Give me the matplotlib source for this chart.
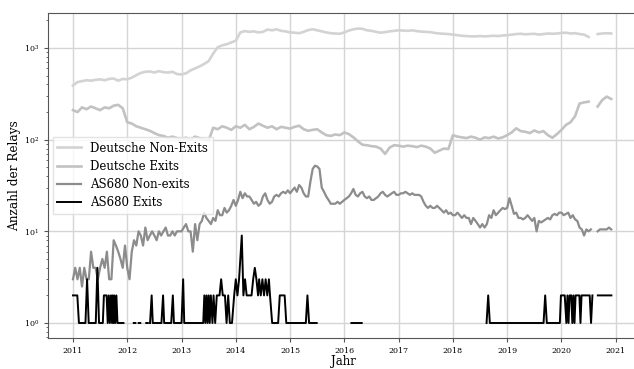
import numpy as np
import matplotlib
matplotlib.use("Agg")
import matplotlib.pyplot as plt

plt.rcParams['font.family'] = ['DejaVu Serif']
plt.rcParams['mathtext.fontset'] = 'dejavuserif'

nan = np.nan

# Jahre (Tick-Beschriftungen)
jahre = list(range(2011, 2022))

# Deutsche Relays, monatlich ab Jan 2011
de_monate = 2011 + np.arange(120) / 12
de_non_exits = [
    390, 425, 435, 445, 440, 450, 455, 445, 460, 465, 440, 460,
    455, 475, 505, 535, 550, 555, 540, 560, 545, 540, 550, 520,
    515, 530, 570, 600, 630, 670, 720, 870, 1020, 1070, 1100, 1150,
    1200, 1480, 1530, 1500, 1520, 1480, 1500, 1590, 1560, 1600, 1540, 1520,
    1480, 1470, 1450, 1500, 1570, 1600, 1560, 1520, 1480, 1450, 1440, 1430,
    1480, 1550, 1600, 1630, 1620, 1560, 1540, 1500, 1470, 1490, 1520, 1540,
    1560, 1550, 1540, 1560, 1530, 1510, 1500, 1490, 1460, 1440, 1430, 1420,
    1400, 1380, 1360, 1350, 1340, 1340, 1350, 1340, 1350, 1360, 1350, 1370,
    1380, 1400, 1420, 1430, 1410, 1420, 1430, 1400, 1420, 1440, 1430, 1440,
    1460, 1470, 1440, 1450, 1420, 1400, 1320, nan, 1420, 1440, 1450, 1440,
]
de_exits = [
    210, 200, 225, 215, 230, 220, 210, 225, 220, 235, 240, 220,
    155, 150, 140, 135, 130, 125, 118, 112, 110, 105, 108, 104,
    102, 105, 100, 108, 104, 100, 98, 135, 130, 140, 135, 128,
    140, 135, 145, 130, 138, 150, 142, 135, 140, 130, 138, 135,
    132, 138, 142, 130, 125, 128, 130, 120, 112, 110, 114, 112,
    120, 115, 106, 96, 88, 87, 85, 84, 80, 70, 82, 87,
    86, 84, 86, 85, 83, 86, 84, 80, 72, 76, 80, 79,
    112, 108, 106, 104, 108, 105, 100, 106, 104, 108, 103, 106,
    112, 120, 133, 124, 122, 118, 126, 120, 124, 112, 105, 115,
    128, 145, 155, 180, 248, 255, 260, nan, 230, 270, 295, 278,
]

# AS680 Non-exits, halbmonatlich ab Jan 2011
as_halbmonate = 2011 + np.arange(240) / 24
as_non_exits = [
    3, 4, 3, 4, 2.5, 4, 3, 3, 6, 4, 4, 3, 4, 5, 4, 6, 3, 3, 8, 7, 6, 5, 4, 7,
    4, 3, 6, 8, 7, 10, 9, 7, 11, 8, 9, 10, 9, 8, 10, 9, 10, 11, 9, 9, 10, 9, 10, 10,
    10, 11, 12, 10, 10, 6, 12, 8, 12, 13, 16, 14, 13, 12, 14, 13, 17, 15, 15, 18, 16, 17, 19, 22,
    19, 22, 27, 23, 26, 24, 24, 22, 20, 21, 19, 20, 24, 26, 22, 20, 21, 24, 25, 24, 26, 27, 26, 28,
    26, 28, 30, 27, 32, 30, 26, 24, 24, 35, 48, 52, 51, 48, 30, 27, 24, 22, 20, 20, 20, 21, 20, 21,
    22, 23, 24, 26, 29, 25, 24, 26, 27, 24, 23, 24, 22, 22, 23, 24, 26, 27, 25, 24, 25, 26, 27, 25,
    25, 26, 26, 27, 26, 25, 26, 25, 25, 25, 24, 21, 19, 18, 19, 18, 18, 19, 18, 17, 16, 17, 15.5, 16,
    15, 15, 16, 15, 14, 15, 14, 14, 12, 14, 13, 12, 11, 12, 11, 12, 15, 14, 17, 15, 16, 17, 18, 17.5,
    18, 23, 19, 15.5, 16, 14, 14, 13.5, 14, 15, 14, 13, 14, 10, 13, 12.5, 13, 13.5, 14, 13.5, 15, 15.5, 15, 16,
    16, 15, 15.5, 16, 14, 15, 13.5, 13, 11, 10.5, 9, 10.5, 10, 10.5, nan, nan, 10, 10.5, 10.5, 10.5, 10.5, 11, 10.5, nan,
]

# AS680 Exits (Zeitpunkt, Anzahl); nan = keine Exits
as_exit_zeit = [
    2011.00, 2011.08, 2011.11, 2011.23, 2011.26, 2011.29, 2011.42, 2011.45, 2011.48, 2011.55,
    2011.57, 2011.62, 2011.64, 2011.66, 2011.68, 2011.70, 2011.72, 2011.73, 2011.75, 2011.76,
    2011.78, 2011.80, 2011.82, 2011.93, 2011.95,
    2012.12, 2012.15, 2012.16, 2012.21, 2012.24, 2012.25, 2012.35, 2012.38, 2012.39,
    2012.42, 2012.45, 2012.47, 2012.63, 2012.66, 2012.68, 2012.81, 2012.84, 2012.86,
    2013.00, 2013.03, 2013.05, 2013.40, 2013.42, 2013.44, 2013.46, 2013.48, 2013.50, 2013.52,
    2013.54, 2013.57, 2013.59, 2013.62, 2013.65, 2013.70, 2013.73, 2013.76, 2013.80, 2013.83,
    2013.86, 2013.89, 2013.93, 2013.97, 2014.00, 2014.03, 2014.06, 2014.11, 2014.14, 2014.17,
    2014.20, 2014.29, 2014.32, 2014.35, 2014.38, 2014.41, 2014.43, 2014.46, 2014.49, 2014.52,
    2014.55, 2014.58, 2014.61, 2014.63, 2014.67, 2014.78, 2014.81, 2014.90, 2014.93,
    2015.29, 2015.32, 2015.35, 2015.49, 2015.50,
    2016.13, 2016.32, 2016.33,
    2018.62, 2018.65, 2018.68, 2019.67, 2019.70, 2019.73, 2019.97, 2019.99, 2020.06, 2020.09,
    2020.11, 2020.13, 2020.15, 2020.18, 2020.20, 2020.22, 2020.24, 2020.26, 2020.33, 2020.35,
    2020.37, 2020.52, 2020.545, 2020.57, 2020.58,
    2020.67, 2020.92,
]
as_exits = [
    2, 2, 1, 1, 3, 1, 1, 4, 1, 1,
    2, 2, 1, 2, 1, 2, 1, 2, 1, 2,
    1, 2, 1, 1, nan,
    1, 1, nan, 1, 1, nan, 1, 1, nan,
    1, 2, 1, 1, 2, 1, 1, 2, 1,
    1, 3, 1, 1, 2, 1, 2, 1, 2, 1,
    2, 1, 2, 1, 2, 2, 3, 2, 2, 1,
    2, 1, 1, 2, 3, 2, 3, 9, 2, 3,
    2, 2, 3, 4, 3, 2, 3, 2, 3, 2,
    3, 2, 3, 2, 1, 1, 2, 2, 1,
    1, 2, 1, 1, nan,
    1, 1, nan,
    1, 2, 1, 1, 2, 1, 1, 2, 2, 1,
    2, 1, 2, 2, 1, 2, 1, 2, 2, 1,
    2, 2, 1, 2, nan,
    2, 2,
]

fig = plt.figure(figsize=(6.34, 3.69), dpi=100)
ax = fig.add_axes([48 / 634, 31 / 369, 590 / 634, 325 / 369])

ax.plot(de_monate, de_non_exits, color='#d3d3d3', linewidth=1.9, label='Deutsche Non-Exits')
ax.plot(de_monate, de_exits, color='#c2c2c2', linewidth=1.9, label='Deutsche Exits')
ax.plot(as_halbmonate, as_non_exits, color='#8c8c8c', linewidth=1.6, label='AS680 Non-exits')
ax.plot(as_exit_zeit, as_exits, color='black', linewidth=1.4, label='AS680 Exits')

ax.set_yscale('log')
ax.set_ylim(0.686, 2410)
ax.set_xlim(2010.54, 2021.41)
ax.set_xticks(jahre)
ax.set_xticklabels([str(j) for j in jahre])
ax.tick_params(axis='both', which='major', labelsize=5.7, length=3, color='#555555')
ax.tick_params(axis='y', which='minor', length=1.8, color='#555555')
ax.grid(True, which='major', color='#d5d5d5', linewidth=1)
ax.set_axisbelow(True)
for s in ax.spines.values():
    s.set_color('#555555')

ax.set_xlabel('Jahr', fontsize=8.5, labelpad=0)
ax.set_ylabel('Anzahl der Relays', fontsize=8.7, labelpad=2)

ax.legend(loc='center left', fontsize=8.5, framealpha=0.8, edgecolor='#dddddd',
          fancybox=False, borderaxespad=0.4, labelspacing=0.45)

fig.savefig('out.png', dpi=100)
